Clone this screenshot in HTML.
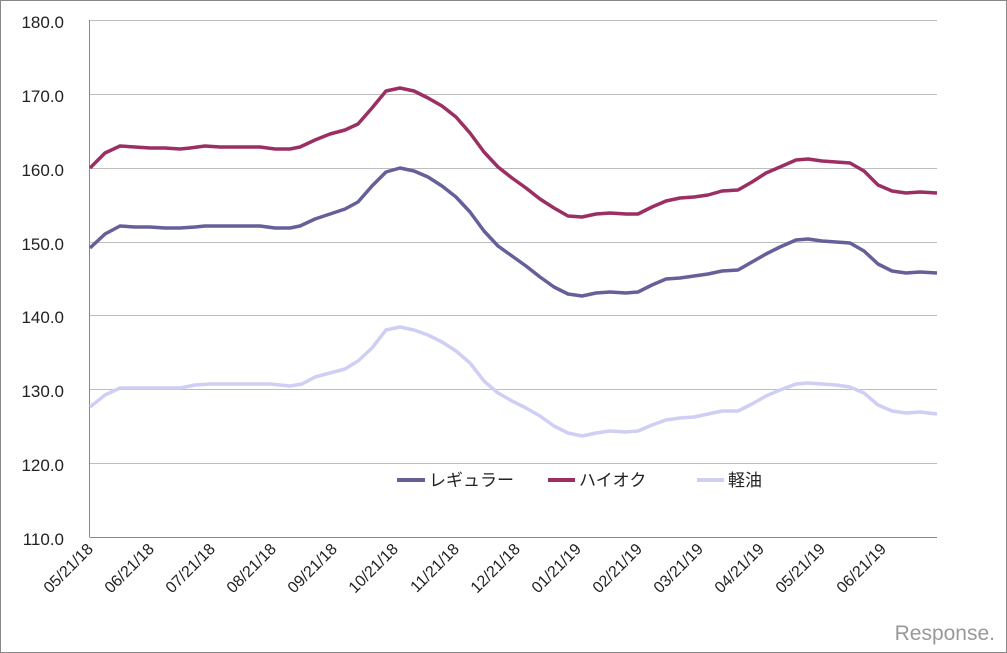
<!DOCTYPE html>
<html><head><meta charset="utf-8"><style>
body{margin:0;background:#fff}
svg{display:block}
text{font-family:"Liberation Sans","Noto Sans CJK JP",sans-serif;}
</style></head><body>
<svg width="1007" height="653" viewBox="0 0 1007 653" xmlns="http://www.w3.org/2000/svg">
<rect x="0.5" y="0.5" width="1006" height="652" fill="#fff" stroke="#888"/>
<g stroke="#bdbdbd" stroke-width="1">
<line x1="89.5" y1="20.5" x2="937" y2="20.5"/>
<line x1="89.5" y1="94.5" x2="937" y2="94.5"/>
<line x1="89.5" y1="168.5" x2="937" y2="168.5"/>
<line x1="89.5" y1="242.5" x2="937" y2="242.5"/>
<line x1="89.5" y1="315.5" x2="937" y2="315.5"/>
<line x1="89.5" y1="389.5" x2="937" y2="389.5"/>
<line x1="89.5" y1="463.5" x2="937" y2="463.5"/>
</g>
<line x1="89.5" y1="20" x2="89.5" y2="537" stroke="#888"/>
<line x1="89.5" y1="537.5" x2="937" y2="537.5" stroke="#888"/>
<g font-size="17" fill="#222" text-anchor="end">
<text x="64" y="28">180.0</text>
<text x="64" y="102">170.0</text>
<text x="64" y="176">160.0</text>
<text x="64" y="250">150.0</text>
<text x="64" y="323">140.0</text>
<text x="64" y="397">130.0</text>
<text x="64" y="471">120.0</text>
<text x="64" y="545">110.0</text>
</g>
<g font-size="16" fill="#222" text-anchor="end">
<text transform="translate(94,550) rotate(-45)">05/21/18</text>
<text transform="translate(155,550) rotate(-45)">06/21/18</text>
<text transform="translate(216,550) rotate(-45)">07/21/18</text>
<text transform="translate(277,550) rotate(-45)">08/21/18</text>
<text transform="translate(338,550) rotate(-45)">09/21/18</text>
<text transform="translate(399,550) rotate(-45)">10/21/18</text>
<text transform="translate(460,550) rotate(-45)">11/21/18</text>
<text transform="translate(521,550) rotate(-45)">12/21/18</text>
<text transform="translate(582,550) rotate(-45)">01/21/19</text>
<text transform="translate(643,550) rotate(-45)">02/21/19</text>
<text transform="translate(704,550) rotate(-45)">03/21/19</text>
<text transform="translate(765,550) rotate(-45)">04/21/19</text>
<text transform="translate(826,550) rotate(-45)">05/21/19</text>
<text transform="translate(887,550) rotate(-45)">06/21/19</text>
</g>
<g fill="none" stroke-width="3.5" stroke-linejoin="round">
<polyline stroke="#cfcff5" points="90,407 105,395 120,388 135,388 150,388 165,388 180,388 195,385 210,384 230,384 250,384 270,384 290,386 302,384 315,377 330,373 345,369 358,361 372,348 386,330 400,327 414,330 428,335 442,342 456,351 470,363 484,381 498,393 512,401 526,408 540,416 554,426 568,433 582,436 596,433 610,431 626,432 638,431 652,425 666,420 680,418 694,417 708,414 722,411 738,411 752,404 766,396 780,390 796,384 808,383 822,384 836,385 850,387 864,393 878,405 892,411 906,413 920,412 937,414"/>
<polyline stroke="#65609a" points="90,248 105,234 120,226 135,227 150,227 165,228 180,228 195,227 205,226 220,226 240,226 260,226 275,228 290,228 300,226 315,219 330,214 345,209 358,202 372,186 386,172 400,168 414,171 428,177 442,186 456,197 470,212 484,231 498,246 512,256 526,266 540,277 554,287 568,294 582,296 596,293 610,292 626,293 638,292 652,285 666,279 680,278 694,276 708,274 722,271 738,270 752,262 766,254 780,247 796,240 808,239 822,241 836,242 850,243 864,251 878,264 892,271 906,273 920,272 937,273"/>
<polyline stroke="#9b2f63" points="90,168 105,153 120,146 135,147 150,148 165,148 180,149 190,148 205,146 220,147 240,147 260,147 275,149 290,149 300,147 315,140 330,134 345,130 358,124 372,108 386,91 400,88 414,91 428,98 442,106 456,117 470,133 484,152 498,167 512,178 526,188 540,199 554,208 568,216 582,217 596,214 610,213 626,214 638,214 652,207 666,201 680,198 694,197 708,195 722,191 738,190 752,182 766,173 780,167 796,160 808,159 822,161 836,162 850,163 864,171 878,185 892,191 906,193 920,192 937,193"/>
</g>
<g stroke-width="4">
<line x1="397" y1="480" x2="425" y2="480" stroke="#65609a"/>
<line x1="548" y1="480" x2="575" y2="480" stroke="#9b2f63"/>
<line x1="697" y1="480" x2="724" y2="480" stroke="#cfcff5"/>
</g>
<g font-size="17" fill="#222">
<text x="429" y="486">レギュラー</text>
<text x="579" y="486">ハイオク</text>
<text x="728" y="486">軽油</text>
</g>
<text x="995" y="640" font-size="21" fill="#999" text-anchor="end">Response.</text>
</svg>
</body></html>
